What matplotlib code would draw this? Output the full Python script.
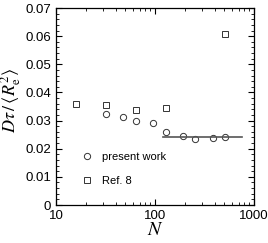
import matplotlib
matplotlib.use("Agg")
import matplotlib.pyplot as plt
from matplotlib.ticker import MultipleLocator, FixedLocator, NullFormatter, FuncFormatter

plt.rcParams['font.family'] = ['Liberation Sans', 'DejaVu Sans']
plt.rcParams['mathtext.fontset'] = 'stix'

# data
n_present = [32, 48, 64, 96, 128, 192, 256, 384, 512]
d_present = [0.0325, 0.0312, 0.0300, 0.0290, 0.0260, 0.0245, 0.0233, 0.0238, 0.0241]
n_ref = [16, 32, 64, 128, 512]
d_ref = [0.0359, 0.0354, 0.0338, 0.0345, 0.0608]
fit_n = [120, 750]
fit_d = [0.024, 0.024]

fig = plt.figure(figsize=(2.68, 2.43), dpi=100)
ax = fig.add_axes([56/268, 1 - 205/243, 198/268, 197/243])

ax.plot(n_present, d_present, 'o', mfc='none', mec='#333333', ms=4.5, mew=0.7,
        label='present work')
ax.plot(n_ref, d_ref, 's', mfc='none', mec='#333333', ms=4.5, mew=0.7,
        label='Ref. 8')
ax.plot(fit_n, fit_d, '-', color='#555555', lw=1.2)

ax.set_xscale('log')
ax.set_xlim(10, 1000)
ax.set_ylim(0, 0.07)
ax.set_xticks([10, 100, 1000])
ax.set_xticklabels(['10', '100', '1000'])
ax.xaxis.set_minor_locator(FixedLocator([k * 10**e for e in (1, 2) for k in range(2, 10)]))
ax.xaxis.set_minor_formatter(NullFormatter())
ax.yaxis.set_major_locator(MultipleLocator(0.01))
ax.yaxis.set_minor_locator(MultipleLocator(0.002))
ax.yaxis.set_major_formatter(FuncFormatter(lambda v, p: '0' if abs(v) < 1e-9 else '%.2f' % v))
ax.tick_params(which='both', direction='in', top=True, right=True, labelsize=9.5)
ax.tick_params(which='major', length=4, width=0.8)
ax.tick_params(which='minor', length=2, width=0.6)
for s in ax.spines.values():
    s.set_linewidth(0.9)

ax.set_xlabel(r'$N$', fontsize=14, labelpad=0)
ax.set_ylabel(r'$D\tau\,/\,\langle R_{\rm e}^2\rangle$', fontsize=13)
ax.yaxis.set_label_coords(-0.165, 0.53)

ax.legend(loc='lower left', bbox_to_anchor=(0.08, 0.045), frameon=False, fontsize=8,
          handlelength=1.0, handletextpad=0.8, labelspacing=1.3)

fig.savefig('out.png', dpi=100)
